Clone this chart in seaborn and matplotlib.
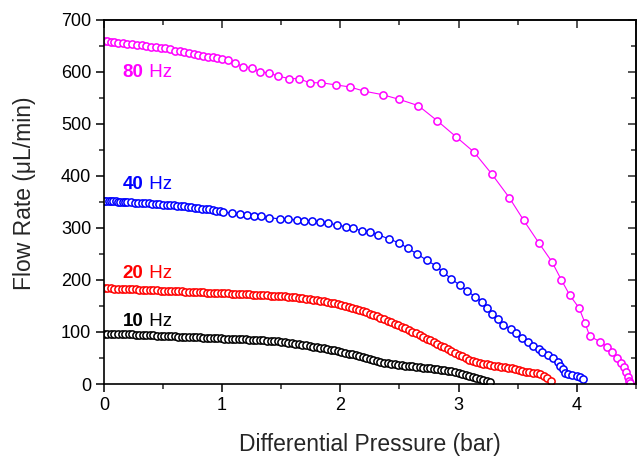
import matplotlib
matplotlib.use("Agg")
import matplotlib.pyplot as plt
import seaborn as sns
import pandas as pd

# Flow rate vs differential pressure at four drive frequencies
pressure_10hz = [0.00, 0.03, 0.06, 0.09, 0.12, 0.15, 0.18, 0.21, 0.24, 0.27, 0.30, 0.33,
                 0.36, 0.39, 0.42, 0.45, 0.48, 0.51, 0.54, 0.57, 0.60, 0.63, 0.66, 0.69,
                 0.72, 0.75, 0.78, 0.81, 0.84, 0.87, 0.90, 0.93, 0.96, 0.99, 1.02, 1.05,
                 1.08, 1.11, 1.14, 1.17, 1.20, 1.23, 1.26, 1.29, 1.32, 1.35, 1.38, 1.41,
                 1.44, 1.47, 1.50, 1.53, 1.56, 1.59, 1.62, 1.65, 1.68, 1.71, 1.74, 1.77,
                 1.80, 1.83, 1.86, 1.89, 1.92, 1.95, 1.98, 2.01, 2.04, 2.07, 2.10, 2.13,
                 2.16, 2.19, 2.22, 2.25, 2.28, 2.31, 2.34, 2.37, 2.40, 2.43, 2.46, 2.49,
                 2.52, 2.55, 2.58, 2.61, 2.64, 2.67, 2.70, 2.73, 2.76, 2.79, 2.82, 2.85,
                 2.88, 2.91, 2.94, 2.97, 3.00, 3.03, 3.06, 3.09, 3.12, 3.15, 3.18, 3.21,
                 3.24, 3.27]
flow_10hz = [97, 97, 96.8, 96.6, 96.3, 96.1, 95.8, 95.5, 95.2, 94.9, 94.6, 94.3,
             94, 93.7, 93.4, 93.1, 92.8, 92.5, 92.2, 91.9, 91.6, 91.3, 91, 90.7,
             90.4, 90.1, 89.8, 89.5, 89.2, 88.9, 88.6, 88.3, 88, 87.7, 87.4, 87.1,
             86.8, 86.5, 86.2, 85.9, 85.6, 85.3, 85, 84.6, 84.2, 83.8, 83.4, 83,
             82.4, 81.8, 81.2, 80.3, 79.4, 78.4, 77.4, 76.4, 75.4, 74.4, 73.3, 72.1,
             70.9, 69.7, 68.5, 67.3, 65.9, 64.5, 63, 61.5, 60, 58.4, 56.8, 55,
             53.2, 51.4, 49.6, 47.8, 45.6, 43.8, 42.2, 40.8, 39.6, 38.6, 37.7, 36.8,
             36, 35.2, 34.5, 33.8, 33.1, 32.3, 31.5, 30.7, 29.9, 29.1, 28.2, 27.3,
             26.3, 25.3, 24.2, 23, 21.5, 19.5, 17.5, 15.5, 13.5, 11.5, 9.5, 7.5,
             5, 3]

pressure_20hz = [0.00, 0.03, 0.06, 0.09, 0.12, 0.15, 0.18, 0.21, 0.24, 0.27, 0.30, 0.33,
                 0.36, 0.39, 0.42, 0.45, 0.48, 0.51, 0.54, 0.57, 0.60, 0.63, 0.66, 0.69,
                 0.72, 0.75, 0.78, 0.81, 0.84, 0.87, 0.90, 0.93, 0.96, 0.99, 1.02, 1.05,
                 1.08, 1.11, 1.14, 1.17, 1.20, 1.23, 1.26, 1.29, 1.32, 1.35, 1.38, 1.41,
                 1.44, 1.47, 1.50, 1.53, 1.56, 1.59, 1.62, 1.65, 1.68, 1.71, 1.74, 1.77,
                 1.80, 1.83, 1.86, 1.89, 1.92, 1.95, 1.98, 2.01, 2.04, 2.07, 2.10, 2.13,
                 2.16, 2.19, 2.22, 2.25, 2.28, 2.31, 2.34, 2.37, 2.40, 2.43, 2.46, 2.49,
                 2.52, 2.55, 2.58, 2.61, 2.64, 2.67, 2.70, 2.73, 2.76, 2.79, 2.82, 2.85,
                 2.88, 2.91, 2.94, 2.97, 3.00, 3.03, 3.06, 3.09, 3.12, 3.15, 3.18, 3.21,
                 3.24, 3.27, 3.30, 3.33, 3.36, 3.39, 3.42, 3.45, 3.48, 3.51, 3.54, 3.57,
                 3.60, 3.63, 3.66, 3.69, 3.72, 3.75, 3.78]
flow_20hz = [184, 184, 183.7, 183.4, 183.1, 182.8, 182.5, 182.2, 182, 181.7, 181.4, 181.1,
             180.8, 180.5, 180.2, 180, 179.7, 179.4, 179.1, 178.8, 178.5, 178.2, 177.9, 177.6,
             177.3, 177, 176.7, 176.4, 176.1, 175.8, 175.5, 175.2, 174.9, 174.6, 174.3, 174,
             173.7, 173.4, 173.1, 172.8, 172.5, 172.1, 171.7, 171.2, 170.8, 170.5, 170.2, 169.9,
             169.6, 169.3, 169, 168.4, 167.8, 167.2, 166.6, 166, 165.1, 164.2, 163.3, 162.2,
             161, 159.8, 158.6, 157.4, 156.2, 155, 153.2, 151.4, 149.6, 147.8, 146, 144,
             141.9, 139.8, 137.6, 135.5, 132.8, 130.1, 127.4, 124.7, 122, 119, 116, 113.4,
             110.5, 107.5, 104.2, 100.9, 97.6, 94.3, 91, 87.4, 83.9, 80.8, 77.6, 74,
             70.4, 66.8, 63.2, 59.6, 56, 53, 50, 47, 44.6, 42.5, 40.5, 38.8,
             37.6, 36.4, 35.2, 34.2, 33.3, 32.4, 31.4, 30, 28.5, 27, 25.5, 24,
             22.5, 21.6, 20.6, 19.4, 16, 11, 5]

pressure_40hz = [0.00, 0.02, 0.04, 0.06, 0.08, 0.10, 0.12, 0.14, 0.16, 0.18, 0.20, 0.23,
                 0.26, 0.29, 0.32, 0.35, 0.38, 0.41, 0.44, 0.47, 0.50, 0.53, 0.56, 0.59,
                 0.62, 0.65, 0.68, 0.71, 0.74, 0.77, 0.80, 0.83, 0.86, 0.89, 0.92, 0.95,
                 0.98, 1.01, 1.08, 1.15,
                 1.21, 1.27, 1.33, 1.40, 1.49, 1.56, 1.63, 1.69, 1.76, 1.83, 1.90, 1.97,
                 2.05, 2.11, 2.18, 2.25, 2.32, 2.41, 2.50, 2.57, 2.65, 2.73, 2.81, 2.87,
                 2.94, 3.01, 3.07, 3.14, 3.20, 3.24, 3.28, 3.33, 3.38, 3.44, 3.49, 3.54,
                 3.59, 3.63, 3.68, 3.71, 3.76, 3.80, 3.84, 3.86, 3.88, 3.90, 3.93, 3.96,
                 4.00, 4.03, 4.05]
flow_40hz = [352, 352, 352, 351.5, 351, 351, 350.5, 350.5, 350, 350, 349.5, 349,
             348.5, 348, 347.5, 347.5, 347, 346.5, 346, 345.5, 345, 344.5, 344, 343.5,
             342.5, 342, 341.5, 340.5, 340, 339, 338, 337, 336, 335.5, 334.5, 333.5,
             332, 331, 328, 326,
             324, 323, 322, 320, 317, 317, 315, 314, 313, 312, 309, 306,
             302, 299, 295, 292, 287, 279, 271, 261, 250, 238, 227, 215,
             202, 190, 179, 168, 158, 146, 135, 125, 113, 106, 98, 88,
             81, 73, 67, 61, 56, 50, 42, 35, 29, 22, 19, 17,
             15, 13, 9]

pressure_80hz = [0.00, 0.03, 0.06, 0.09, 0.12, 0.16, 0.20, 0.24, 0.28, 0.32, 0.36, 0.40,
                 0.44, 0.48, 0.52, 0.56, 0.60, 0.64, 0.68, 0.72, 0.76, 0.80, 0.84, 0.88,
                 0.92, 0.96, 1.00, 1.05, 1.11, 1.18, 1.25, 1.32, 1.40, 1.47, 1.57, 1.65,
                 1.74, 1.84, 1.96, 2.08, 2.20, 2.36, 2.50, 2.66, 2.82, 2.98, 3.13, 3.28,
                 3.43, 3.55, 3.68, 3.79, 3.87, 3.94, 4.02, 4.07, 4.11, 4.20, 4.26, 4.30,
                 4.34, 4.37, 4.40, 4.42, 4.43, 4.44, 4.45]
flow_80hz = [660, 659, 658, 657, 656, 655, 654, 653, 652, 651, 650, 648,
             647, 646, 645, 643, 641, 640, 638, 637, 635, 633, 631, 629,
             628, 626, 625, 623, 617, 610, 608, 600, 598, 592, 587, 587,
             579, 579, 575, 571, 563, 556, 547, 535, 506, 475, 446, 404,
             358, 315, 271, 235, 200, 171, 146, 117, 92, 81, 71, 62,
             50, 40, 33, 23, 13, 6, 2]

series_labels = ["10", "20", "40", "80"]
series_colors = ["#000000", "#FF0000", "#0000FF", "#FF00FF"]
label_positions = [(0.16, 121), (0.16, 213), (0.16, 383), (0.16, 598)]

sns.set_style("ticks")
plt.rcParams["font.family"] = ["Liberation Sans", "DejaVu Sans"]
plt.rcParams["axes.linewidth"] = 1.2

fig = plt.figure(figsize=(6.41, 4.61), dpi=100)
ax = fig.add_axes([0.162, 0.167, 0.830, 0.790])

pressures = [pressure_10hz, pressure_20hz, pressure_40hz, pressure_80hz]
flows = [flow_10hz, flow_20hz, flow_40hz, flow_80hz]

for p, q, color in zip(pressures, flows, series_colors):
    df = pd.DataFrame({"pressure": p, "flow": q})
    sns.lineplot(data=df, x="pressure", y="flow", ax=ax, color=color,
                 estimator=None, sort=False, linewidth=0.8,
                 marker="o", markersize=5.2, markerfacecolor="white",
                 markeredgecolor=color, markeredgewidth=1.1)

for lab, color, (lx, ly) in zip(series_labels, series_colors, label_positions):
    t = ax.text(lx, ly, lab, color=color, fontsize=13.5, fontweight="bold",
                ha="left", va="center")
    ax.annotate(" Hz", xy=(1, 0), xycoords=t, color=color, fontsize=13.5,
                ha="left", va="bottom")

ax.set_xlim(0, 4.5)
ax.set_ylim(0, 700)
ax.set_xticks([0, 1, 2, 3, 4])
ax.set_xticks([0.5, 1.5, 2.5, 3.5, 4.5], minor=True)
ax.set_yticks(range(0, 701, 100))
ax.set_yticks(range(50, 700, 100), minor=True)

ax.set_xlabel("Differential Pressure (bar)", fontsize=16.5)
ax.set_ylabel("Flow Rate (μL/min)", fontsize=16.5)
ax.xaxis.set_label_coords(0.5, -0.135)
ax.yaxis.set_label_coords(-0.128, 0.525)

for s in ["top", "right", "left", "bottom"]:
    ax.spines[s].set_visible(True)
    ax.spines[s].set_color("black")

ax.tick_params(axis="both", which="major", direction="out", length=6,
               width=1.1, labelsize=13, colors="black", pad=3)
ax.tick_params(axis="both", which="minor", direction="out", length=3.5,
               width=1.1)

# mirrored ticks on top/right pointing inwards
axt = ax.secondary_xaxis("top")
axt.set_xticks([0, 1, 2, 3, 4])
axt.set_xticks([0.5, 1.5, 2.5, 3.5, 4.5], minor=True)
axt.tick_params(which="major", direction="in", length=6, width=1.1, labeltop=False)
axt.tick_params(which="minor", direction="in", length=3.5, width=1.1)
axt.spines["top"].set_linewidth(1.2)
axr = ax.secondary_yaxis("right")
axr.set_yticks(range(0, 701, 100))
axr.set_yticks(range(50, 700, 100), minor=True)
axr.tick_params(which="major", direction="in", length=6, width=1.1, labelright=False)
axr.tick_params(which="minor", direction="in", length=3.5, width=1.1)
axr.spines["right"].set_linewidth(1.2)

fig.savefig("out.png", dpi=100)
